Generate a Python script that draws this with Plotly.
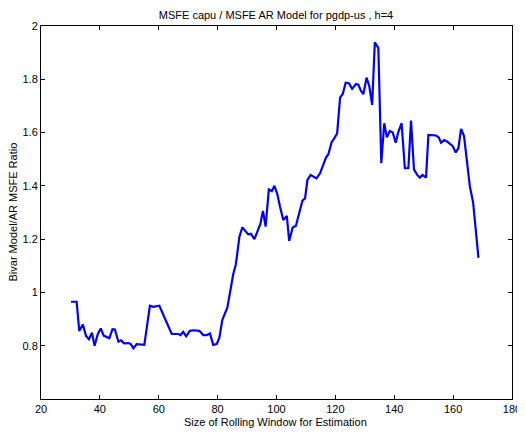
import plotly.graph_objects as go

window = [30.2, 32.1, 33.0, 34.2, 35.3, 36.3, 37.3, 38.2, 39.3, 40.3, 41.3, 43.2, 44.3, 45.1,
          46.3, 47.2, 48.2, 49.7, 50.5, 51.4, 52.5, 55.1, 57.0, 58.1, 60.2, 62.7, 64.4, 66.6,
          67.4, 68.3, 69.3, 70.6, 71.7, 73.8, 75.1, 76.3, 77.4, 78.5, 79.7, 80.6, 81.6, 83.3,
          84.4, 85.3, 86.2, 87.4, 88.4, 89.5, 90.4, 91.3, 92.5, 93.5, 94.5, 95.4, 96.3, 97.4,
          98.4, 99.3, 100.3, 101.2, 102.3, 103.5, 104.3, 105.5, 106.6, 107.7, 108.8, 109.7,
          110.5, 111.6, 112.5, 113.6, 114.8, 115.9, 116.8, 117.6, 118.7, 119.6, 120.6, 121.6,
          122.5, 123.5, 124.6, 125.7, 127.0, 127.8, 128.7, 129.5, 130.6, 131.5, 132.5, 133.4,
          134.6, 135.6, 136.6, 137.5, 138.5, 139.5, 140.5, 141.4, 142.5, 143.6, 144.8, 145.7,
          146.7, 147.8, 148.7, 149.6, 150.8, 151.6, 152.7, 154.2, 155.1, 155.9, 157.0, 158.0,
          159.8, 160.9, 161.8, 162.7, 163.7, 164.8, 165.7, 166.8, 167.8, 168.6]
ratio = [0.965, 0.965, 0.855, 0.880, 0.837, 0.824, 0.849, 0.800, 0.844, 0.865, 0.838, 0.828,
         0.862, 0.861, 0.815, 0.820, 0.809, 0.810, 0.806, 0.790, 0.806, 0.803, 0.950, 0.946,
         0.950, 0.884, 0.844, 0.844, 0.840, 0.852, 0.835, 0.856, 0.858, 0.856, 0.840, 0.840,
         0.846, 0.803, 0.806, 0.830, 0.897, 0.943, 1.018, 1.068, 1.106, 1.209, 1.244, 1.231,
         1.218, 1.220, 1.200, 1.228, 1.256, 1.306, 1.247, 1.387, 1.380, 1.400, 1.368, 1.322,
         1.272, 1.287, 1.193, 1.244, 1.250, 1.297, 1.344, 1.353, 1.422, 1.441, 1.435, 1.428,
         1.447, 1.481, 1.506, 1.518, 1.563, 1.578, 1.597, 1.731, 1.745, 1.787, 1.785, 1.764,
         1.782, 1.780, 1.756, 1.744, 1.806, 1.775, 1.704, 1.939, 1.917, 1.485, 1.635, 1.582,
         1.606, 1.600, 1.562, 1.603, 1.635, 1.466, 1.466, 1.645, 1.462, 1.441, 1.431, 1.441,
         1.431, 1.591, 1.589, 1.589, 1.582, 1.562, 1.572, 1.566, 1.550, 1.525, 1.542, 1.614,
         1.587, 1.485, 1.397, 1.337, 1.234, 1.130]

x_ticks = [20, 40, 60, 80, 100, 120, 140, 160, 180]
y_ticks = [0.8, 1, 1.2, 1.4, 1.6, 1.8, 2]
y_labels = ["0.8", "1", "1.2", "1.4", "1.6", "1.8", "2"]

font = "Liberation Sans, Arial, Helvetica, sans-serif"
txt = dict(family=font, size=11, color="black")

fig = go.Figure(go.Scatter(x=window, y=ratio, mode="lines",
                           line=dict(color="#0000ff", width=2.2)))

axis_common = dict(showgrid=False, zeroline=False, showline=True, linecolor="black",
                   linewidth=1, mirror="allticks", ticks="inside", ticklen=4,
                   tickcolor="black", tickfont=txt, automargin=False)

# page body has an 8px margin; figure sized to fit the 525x433 window
W, H = 517, 425
fig.update_layout(
    width=W, height=H,
    margin=dict(l=33, r=13, t=18, b=34),
    paper_bgcolor="white", plot_bgcolor="white",
    showlegend=False,
    title=dict(text="MSFE capu / MSFE AR Model for pgdp-us , h=4",
               x=(8 + 33 + 235) / W * 0 + 268 / W, xanchor="center",
               y=1 - 7 / H, yanchor="middle", font=txt),
    xaxis=dict(range=[20, 180], tickvals=x_ticks, **axis_common),
    yaxis=dict(range=[0.6, 2], tickvals=y_ticks, ticktext=y_labels, **axis_common),
    annotations=[
        dict(text="Size of Rolling Window for Estimation", xref="paper", yref="paper",
             x=0.497, y=-23 / 373, xanchor="center", yanchor="middle", showarrow=False,
             font=txt),
        dict(text="Bivar Model/AR MSFE Ratio", xref="paper", yref="paper",
             x=-29 / 471, y=0.5, xanchor="center", yanchor="middle", textangle=-90,
             showarrow=False, font=txt),
    ],
)

fig.write_html("out.html")
